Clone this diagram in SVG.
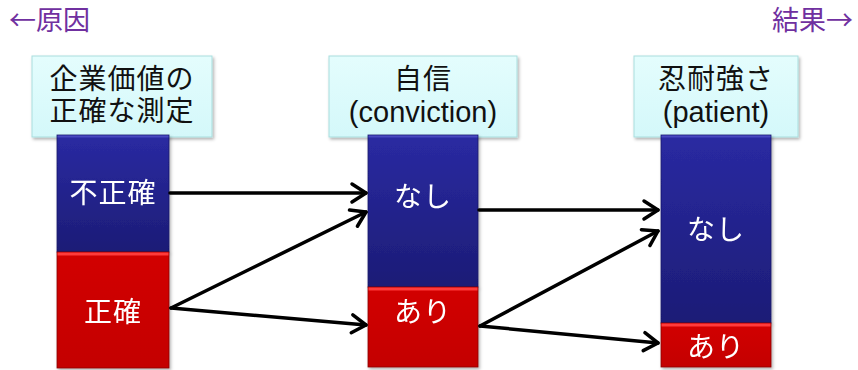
<svg xmlns="http://www.w3.org/2000/svg" width="858" height="370" viewBox="0 0 858 370">
<defs>
<linearGradient id="gBlue" x1="0" y1="0" x2="0" y2="1">
<stop offset="0" stop-color="#2a2aa2"/>
<stop offset="1" stop-color="#1c1c76"/>
</linearGradient>
<linearGradient id="gRed" x1="0" y1="0" x2="0" y2="1">
<stop offset="0" stop-color="#d20000"/>
<stop offset="1" stop-color="#c40000"/>
</linearGradient>
<linearGradient id="gHead" x1="0" y1="0" x2="0" y2="1">
<stop offset="0" stop-color="#e4fdfd"/>
<stop offset="1" stop-color="#d4f8fa"/>
</linearGradient>
<filter id="sh" x="-10%" y="-10%" width="130%" height="130%">
<feDropShadow dx="1.5" dy="2" stdDeviation="1.5" flood-color="#000" flood-opacity="0.3"/>
</filter>
<marker id="arr" markerUnits="userSpaceOnUse" viewBox="-18 -12 22 24" markerWidth="22" markerHeight="24" refX="0" refY="0" orient="auto">
<path d="M-14,-9 L0,0 L-14,9" fill="none" stroke="#000" stroke-width="3.5" stroke-linecap="round" stroke-linejoin="round"/>
</marker>
<style>
.t{font-family:"Liberation Sans","Noto Sans CJK JP",sans-serif;font-size:28px;text-anchor:middle}
.cjk{letter-spacing:1px}
.lat{font-size:29px}
.dark{fill:#111}
.white{fill:#fff}
.title{font-family:"Noto Sans CJK JP",sans-serif;font-size:27px;fill:#7030a0}
.head{fill:url(#gHead);stroke:#a9dede;stroke-width:1;filter:url(#sh)}
.blue{fill:url(#gBlue);stroke:#18186a;stroke-width:0.8}
.red{fill:url(#gRed);stroke:#8a0000;stroke-width:0.8}
.hl{fill:#ff3a3a}
.hlb{fill:#4848c0}
.conn{fill:none;stroke:#000;stroke-width:3.5;stroke-linecap:round;marker-end:url(#arr)}
</style>
</defs>
<rect width="858" height="370" fill="#fff"/>
<g id="title-cause"><text class="title" x="9" y="30">←原因</text></g>
<g id="title-effect"><text class="title" x="853" y="30" text-anchor="end">結果→</text></g>

<g id="node-valuation">
<rect class="head" x="32" y="56" width="180" height="81"/>
<text class="t dark cjk" x="122" y="89">企業価値の</text>
<text class="t dark cjk" x="122" y="121">正確な測定</text>
</g>
<g id="node-conviction">
<rect class="head" x="329" y="56" width="188" height="81"/>
<text class="t dark cjk" x="423" y="89">自信</text>
<text class="t dark lat" x="423" y="122">(conviction)</text>
</g>
<g id="node-patient">
<rect class="head" x="634" y="56" width="164" height="81"/>
<text class="t dark cjk" x="716" y="89">忍耐強さ</text>
<text class="t dark lat" x="716" y="122">(patient)</text>
</g>

<g id="bar1-inaccurate" filter="url(#sh)">
<rect class="blue" x="57" y="135" width="112" height="117"/>
<rect class="hlb" x="57.5" y="135.5" width="111" height="2"/>
<text class="t white cjk" x="113" y="203">不正確</text>
</g>
<g id="bar1-accurate" filter="url(#sh)">
<rect class="red" x="57" y="252" width="112" height="116"/>
<rect class="hl" x="57.5" y="252.5" width="111" height="3"/>
<text class="t white cjk" x="113" y="322">正確</text>
</g>
<g id="bar2-none" filter="url(#sh)">
<rect class="blue" x="368" y="135" width="110" height="152"/>
<rect class="hlb" x="368.5" y="135.5" width="109" height="2"/>
<text class="t white cjk" x="423" y="207">なし</text>
</g>
<g id="bar2-yes" filter="url(#sh)">
<rect class="red" x="368" y="287" width="110" height="80"/>
<rect class="hl" x="368.5" y="287.5" width="109" height="3"/>
<text class="t white cjk" x="423" y="322">あり</text>
</g>
<g id="bar3-none" filter="url(#sh)">
<rect class="blue" x="661" y="135" width="110" height="188"/>
<rect class="hlb" x="661.5" y="135.5" width="109" height="2"/>
<text class="t white cjk" x="716" y="240">なし</text>
</g>
<g id="bar3-yes" filter="url(#sh)">
<rect class="red" x="661" y="323" width="110" height="44"/>
<rect class="hl" x="661.5" y="323.5" width="109" height="3"/>
<text class="t white cjk" x="716" y="357">あり</text>
</g>

<g id="connectors">
<line class="conn" x1="170" y1="193" x2="366" y2="193"/>
<line class="conn" x1="171" y1="308" x2="366" y2="212"/>
<line class="conn" x1="171" y1="308" x2="366" y2="325"/>
<line class="conn" x1="479" y1="210" x2="658" y2="210"/>
<line class="conn" x1="480" y1="326" x2="658" y2="231"/>
<line class="conn" x1="480" y1="326" x2="658" y2="343"/>
</g>
</svg>
